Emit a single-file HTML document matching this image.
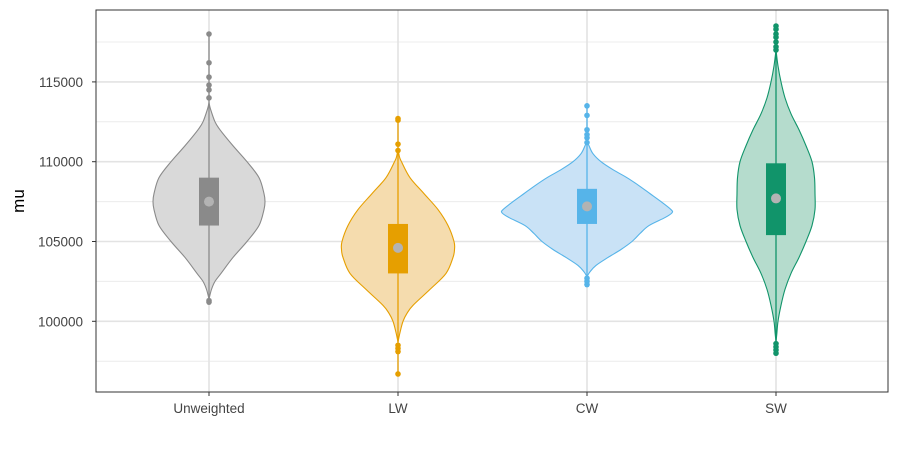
<!DOCTYPE html>
<html><head><meta charset="utf-8"><style>
body{margin:0;background:#fff;}
svg{display:block;font-family:"Liberation Sans",Arial,sans-serif;}
</style></head><body>
<svg id="chart" width="900" height="450"></svg>
<script>
const categories=["Unweighted","LW","CW","SW"];
const colors=["#8a8a8a","#E69F00","#56B4E9","#11946a"];
const fills=["#d9d9d9","#f5dcae","#c9e2f6","#b5dccd"];
const profUnw=[[113700,0],[113300,1.5],[112500,6],[112000,11],[111000,24],[110000,38],[109000,50],[108000,55],[107500,56],[107000,55],[106000,50],[105000,38],[104000,24],[103000,12],[102500,6],[102000,2.5],[101400,0]];
const profLW=[[110800,0],[110300,1.5],[110000,3.5],[109000,12],[108000,26],[107000,40],[106000,50],[105000,56],[104500,56.5],[104000,55],[103000,48],[102000,32],[101000,15],[100500,9],[100000,5],[99300,2],[98700,0]];
const profCW=[[111300,0],[111000,2],[110500,6],[110000,14],[109500,26],[109000,40],[108500,52],[108000,63],[107500,74],[107000,84],[106800,85],[106500,78],[106000,62],[105500,53],[105000,45],[104500,34],[104000,21],[103500,9],[103100,3],[102800,0]];
const profSW=[[117000,0],[116000,2],[115000,5],[114000,9],[113000,15],[112000,23],[111000,30],[110000,36],[109000,38.5],[108000,39],[107000,39],[106000,36],[105000,30],[104000,23],[103000,15],[102000,9],[101000,5],[100000,2],[99200,0.8],[98700,0]];
const profiles=[profUnw,profLW,profCW,profSW];
const q1=[106000,103000,106100,105400];
const q3=[109000,106100,108300,109900];
const medians=[107500,104600,107200,107700];
const outliers=[[118000,116200,115300,114800,114500,114000,101300,101200],[112700,112600,111100,110700,98500,98300,98100,96700],[113500,112900,112000,111700,111500,111200,102700,102500,102300],[118500,118300,118000,117800,117500,117200,117000,98600,98400,98200,98000]];
const yTicks=[100000,105000,110000,115000];
const yMinor=[97500,102500,107500,112500,117500];

const L=96,R=888,T=10,B=392;
const y=v=>161.7-(v-110000)*0.01596;
const x=i=>209+i*189;
const svg=document.getElementById('chart');
const NS="http://www.w3.org/2000/svg";
function mk(t,a,p){const e=document.createElementNS(NS,t);for(const k in a)e.setAttribute(k,a[k]);(p||svg).appendChild(e);return e;}
function smooth(pts){
 let d='M'+pts[0][0]+','+pts[0][1];
 for(let i=0;i<pts.length-1;i++){
  const p0=pts[Math.max(i-1,0)],p1=pts[i],p2=pts[i+1],p3=pts[Math.min(i+2,pts.length-1)];
  const c1x=p1[0]+(p2[0]-p0[0])/6,c1y=p1[1]+(p2[1]-p0[1])/6;
  const c2x=p2[0]-(p3[0]-p1[0])/6,c2y=p2[1]-(p3[1]-p1[1])/6;
  d+=' C'+c1x+','+c1y+' '+c2x+','+c2y+' '+p2[0]+','+p2[1];
 }
 return d;
}

let g;
yMinor.forEach(v=>{g=mk('line',{x1:L,x2:R,y1:y(v),y2:y(v),stroke:'#ececec','stroke-width':1});

});
yTicks.forEach(v=>{g=mk('line',{x1:L,x2:R,y1:y(v),y2:y(v),stroke:'#e3e3e3','stroke-width':1.6});


const t=mk('text',{x:83,y:y(v)+5,'text-anchor':'end','font-size':13.5,fill:'#444'});t.textContent=v;


mk('line',{x1:92,x2:L,y1:y(v),y2:y(v),stroke:'#333'});});
categories.forEach((c,i)=>{g=mk('line',{x1:x(i),x2:x(i),y1:T,y2:B,stroke:'#e3e3e3','stroke-width':1.6});


mk('line',{x1:x(i),x2:x(i),y1:B,y2:B+4,stroke:'#333'});
const t=mk('text',{x:x(i),y:413,'text-anchor':'middle','font-size':13.5,fill:'#444'});t.textContent=c;

});

categories.forEach((c,i)=>{
 const grp=mk('g',{});
 
 
 const p=profiles[i];const cx=x(i);
 const pts=p.map(q=>[cx+q[1],y(q[0])]).concat(p.slice(1,-1).reverse().map(q=>[cx-q[1],y(q[0])]));
 pts.push([cx,y(p[0][0])]);
 const right=p.map(q=>[cx+q[1],y(q[0])]);
 const left=p.slice().reverse().map(q=>[cx-q[1],y(q[0])]);
 const d=smooth(right)+' L'+smooth(left).slice(1)+'Z';
 const vp=mk('path',{d:d,fill:fills[i],stroke:colors[i],'stroke-width':1.1},grp);
 
 
 const all=outliers[i];
 const wl=mk('line',{x1:cx,x2:cx,y1:y(Math.max(...all)),y2:y(Math.min(...all)),stroke:colors[i],'stroke-width':1.3},grp);
 
 
 all.forEach(v=>{const o=mk('circle',{cx:cx,cy:y(v),r:2.8,fill:colors[i]},grp);
 
 });
 const bx=mk('rect',{x:cx-10,y:y(q3[i]),width:20,height:y(q1[i])-y(q3[i]),fill:colors[i]},grp);
 
 
 const m=mk('circle',{cx:cx,cy:y(medians[i]),r:5,fill:'#b3b3b3'},grp);
 
 
});
g=mk('rect',{x:L,y:T,width:R-L,height:B-T,fill:'none',stroke:'#333','stroke-width':1});


const yl=mk('text',{x:0,y:0,transform:'translate(24,201) rotate(-90)','text-anchor':'middle','font-size':17,fill:'#000'});yl.textContent='mu';


</script>
</body></html>
